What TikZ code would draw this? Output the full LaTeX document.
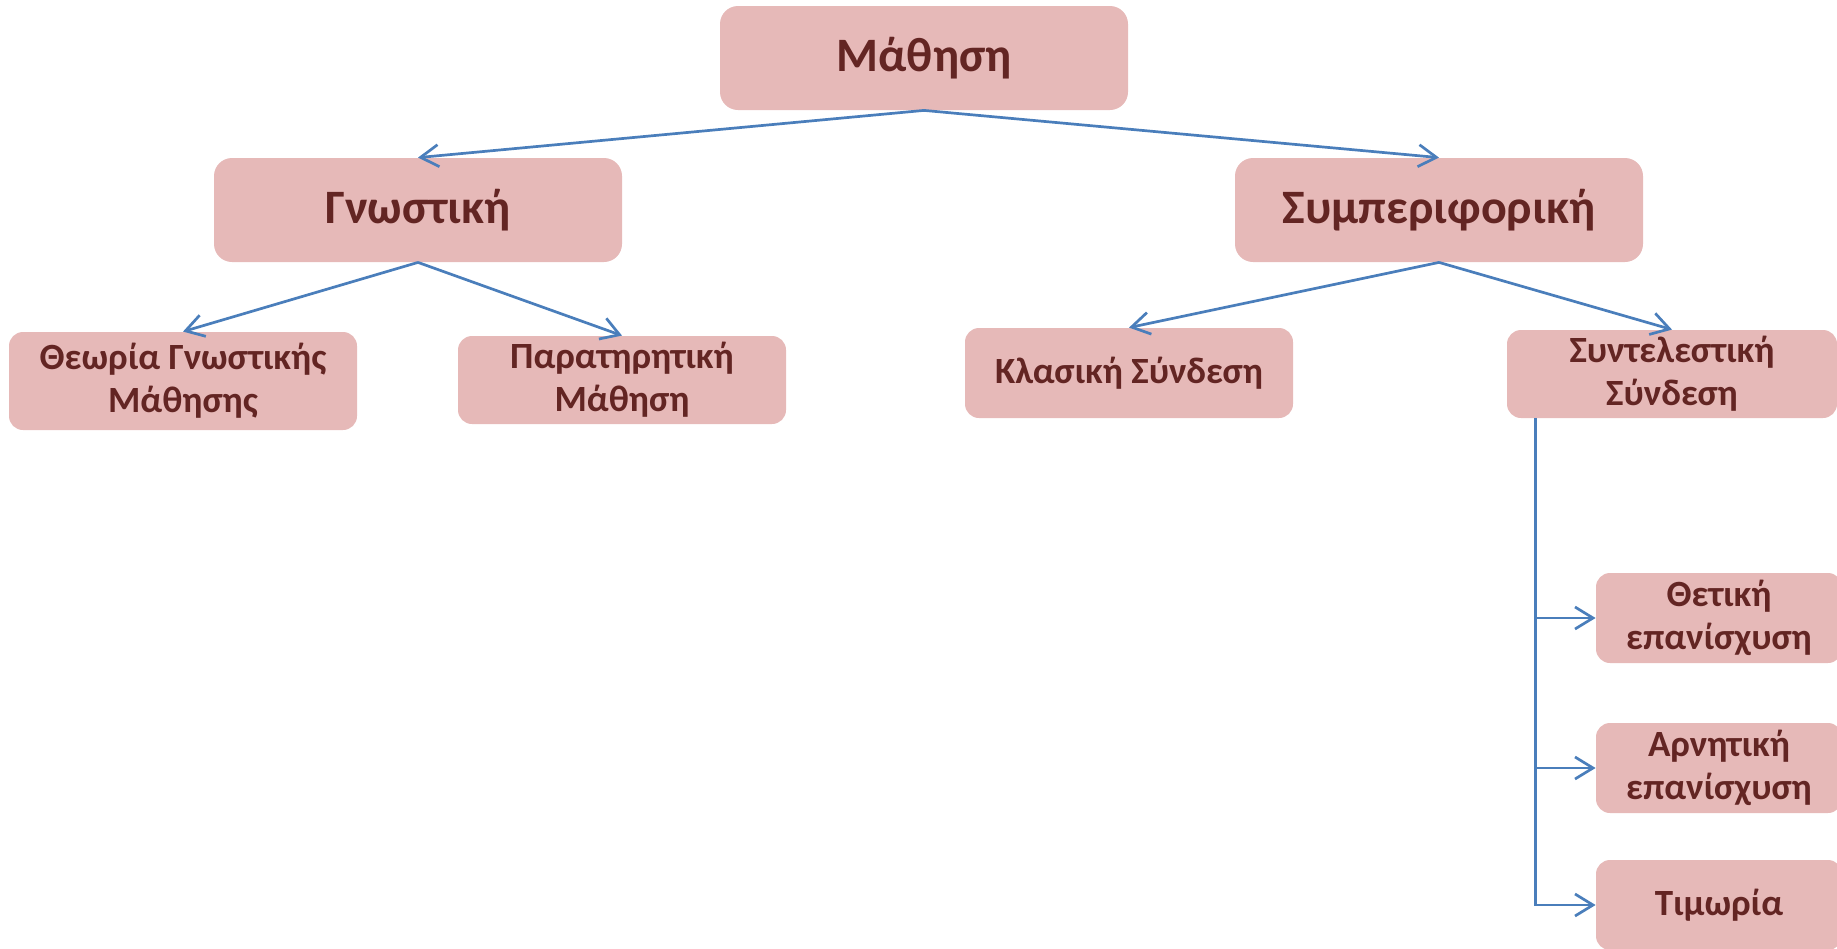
\documentclass[tikz,border=0pt]{standalone}
\usepackage{fontspec}
\setmainfont{Carlito}
\usetikzlibrary{arrows.meta}

\definecolor{boxfill}{HTML}{E6B9B8}
\definecolor{boxtext}{HTML}{632523}
\definecolor{linkblue}{HTML}{4A7EBB}

\begin{document}
\begin{tikzpicture}[x=0.5pt,y=-0.5pt,>={Straight Barb[length=9pt,width=11pt]},
	box/.style={fill=boxfill,text=boxtext,font=\bfseries,align=center,inner sep=0pt},
	top node/.style={box,rounded corners=9pt,font=\fontsize{24}{29}\bfseries},
	sub node/.style={box,rounded corners=7pt,font=\fontsize{18.5}{21.5}\bfseries},
	conn/.style={->,draw=linkblue,line width=1.35pt}]
	
	\useasboundingbox (0,0) rectangle (1837,948);
	\clip (0,0) rectangle (1837,948);
	
	\node[top node,minimum width=204pt,minimum height=52pt] (learn) at (924,58) {Μάθηση};
	\node[top node,minimum width=204pt,minimum height=52pt] (cogn) at (418,210) {Γνωστική};
	\node[top node,minimum width=204pt,minimum height=52pt] (behav) at (1439,210) {Συμπεριφορική};
	
	\node[sub node,minimum width=174pt,minimum height=49pt] (theory) at (183,381) {Θεωρία Γνωστικής\\Μάθησης};
	\node[sub node,minimum width=164pt,minimum height=44pt] (observ) at (622,380) {Παρατηρητική\\Μάθηση};
	\node[sub node,minimum width=164pt,minimum height=45pt] (classic) at (1129,373) {Κλασική Σύνδεση};
	\node[sub node,minimum width=165pt,minimum height=44pt] (operant) at (1672,374) {Συντελεστική\\Σύνδεση};
	
	\node[sub node,minimum width=123pt,minimum height=45pt] (posit) at (1719,618) {Θετική\\επανίσχυση};
	\node[sub node,minimum width=123pt,minimum height=45pt] (negat) at (1719,768) {Αρνητική\\επανίσχυση};
	\node[sub node,minimum width=123pt,minimum height=45pt] (punish) at (1719,905) {Τιμωρία};
	
	\coordinate (trunk) at ([xshift=14.5pt]operant.south west);
	
	\path
	(learn.south) edge [conn] (cogn.north)
	(learn.south) edge [conn] (behav.north)
	(cogn.south) edge [conn] (theory.north)
	(cogn.south) edge [conn] (observ.north)
	(behav.south) edge [conn] (classic.north)
	(behav.south) edge [conn] (operant.north);
	
	\draw[conn] (trunk) |- (posit.west);
	\draw[conn] (trunk) |- (negat.west);
	\draw[conn] (trunk) |- (punish.west);
\end{tikzpicture}
\end{document}
